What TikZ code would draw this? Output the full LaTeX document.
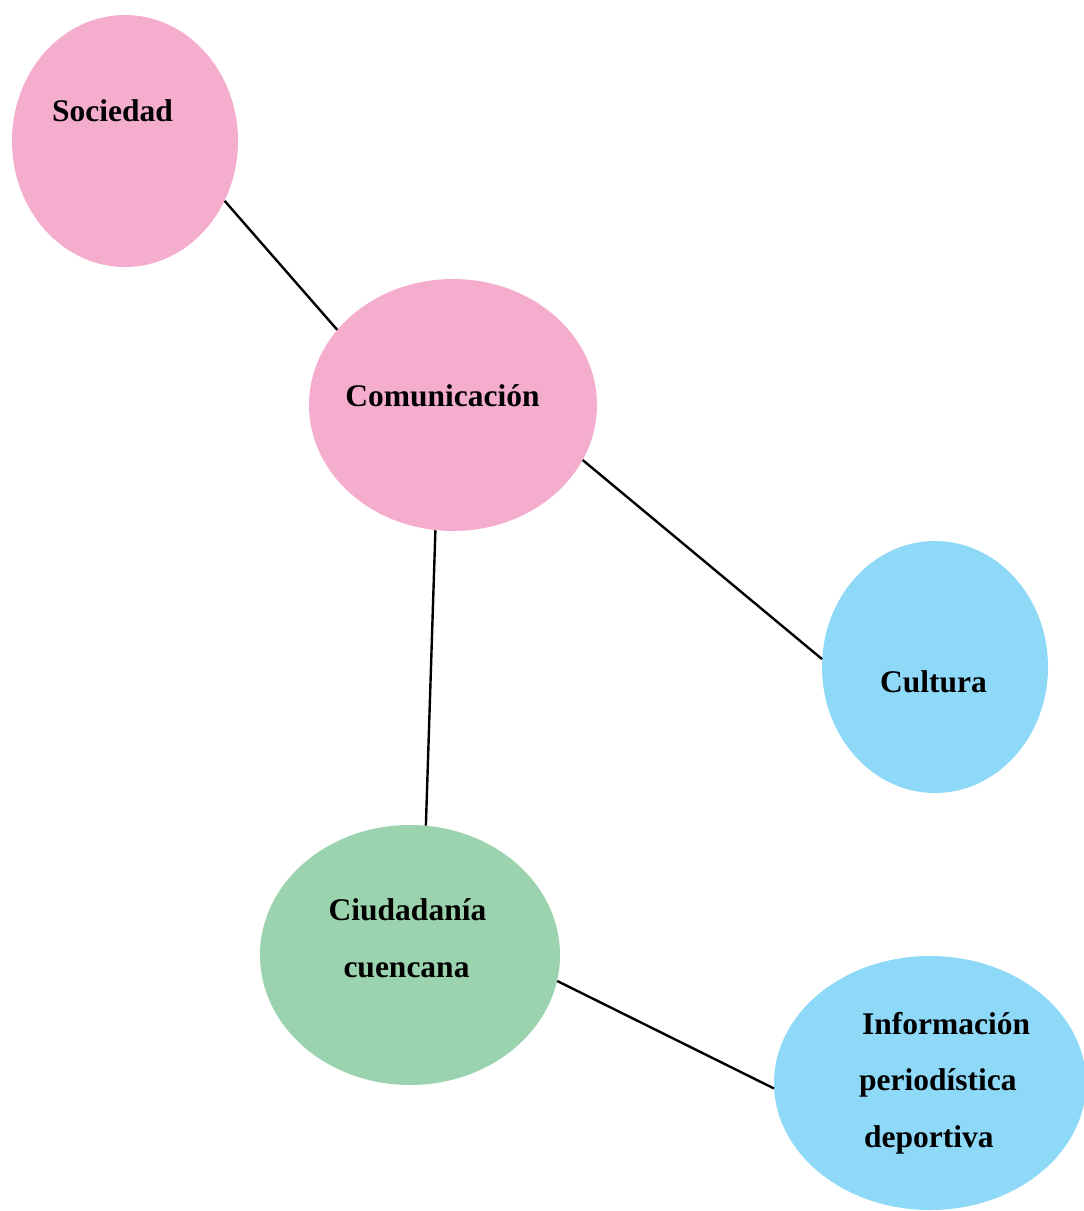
\documentclass[tikz,border=0pt]{standalone}
\usepackage{fontspec}
\setmainfont{Liberation Serif}
\usetikzlibrary{shapes.geometric}
\definecolor{rosa}{RGB}{245,173,206}
\definecolor{celeste}{RGB}{142,216,248}
\definecolor{verde}{RGB}{155,211,174}
\begin{document}
\begin{tikzpicture}[
    x=1pt, y=-1pt,
    blob/.style={ellipse, draw=none, inner sep=0pt},
    lbl/.style={anchor=base, inner sep=0pt, font=\fontsize{31.5}{37}\selectfont\bfseries},
    link/.style={draw, line width=2.4pt}
]
\useasboundingbox (0,0) rectangle (1084,1211);

% Ellipses
\node[blob, fill=rosa, minimum width=226pt, minimum height=252pt] (soc) at (125,141) {};
\node[blob, fill=rosa, minimum width=288pt, minimum height=252pt] (com) at (453,405) {};
\node[blob, fill=celeste, minimum width=226pt, minimum height=252pt] (cul) at (935,667) {};
\node[blob, fill=verde, minimum width=300pt, minimum height=260pt] (ciu) at (410,955) {};
\node[blob, fill=celeste, minimum width=312pt, minimum height=254pt] (inf) at (930,1083) {};

% Texts
\node[lbl] (soc-t) at (112.5,121) {Sociedad};
\node[lbl] (com-t) at (442.5,406) {Comunicación};
\node[lbl] (cul-t) at (933.5,692) {Cultura};
\node[lbl] (ciu-t1) at (407.5,920) {Ciudadanía};
\node[lbl] (ciu-t2) at (406.5,977) {cuencana};
\node[lbl, anchor=base west] (inf-t1) at (862,1034) {Información};
\node[lbl, anchor=base west] (inf-t2) at (859,1090) {periodística};
\node[lbl, anchor=base west] (inf-t3) at (864,1147) {deportiva};

% Links
\draw[link] (soc.-31) -- (com.147);
\draw[link] (com.-23) -- (cul.176);
\draw[link] (com.-98) -- (ciu.83);
\draw[link] (ciu.-10) -- (inf.182);
\end{tikzpicture}
\end{document}
